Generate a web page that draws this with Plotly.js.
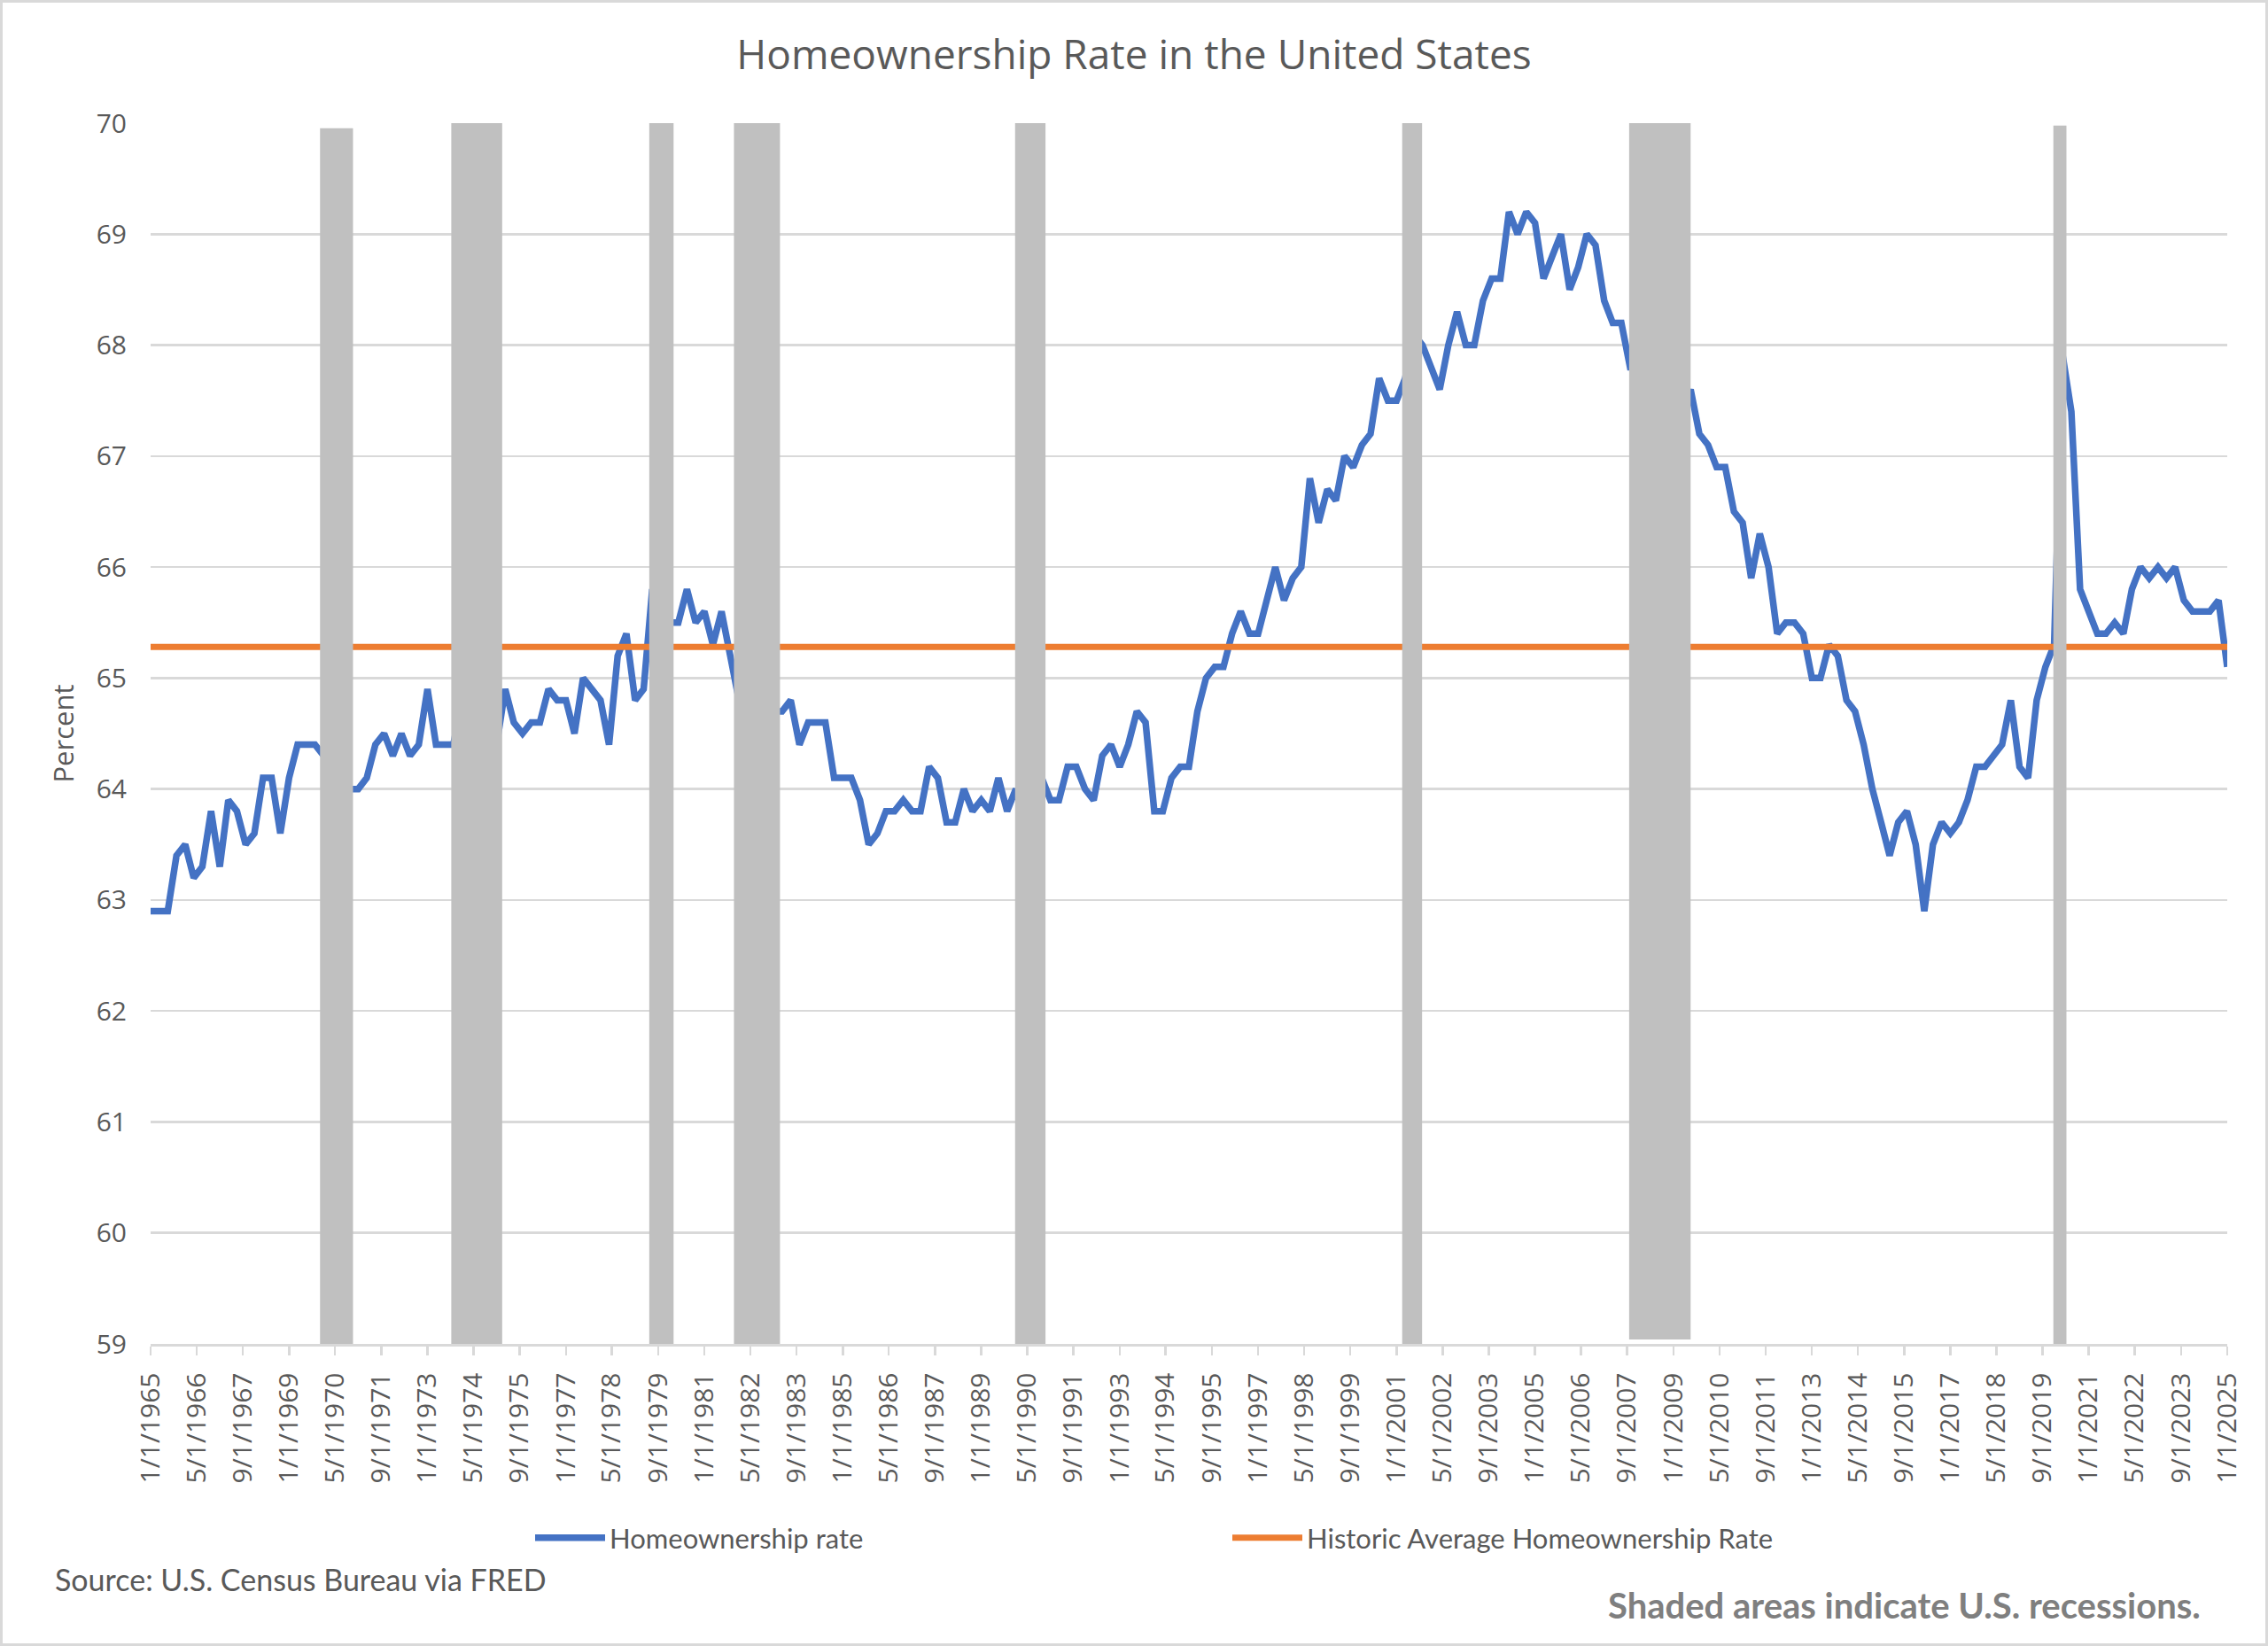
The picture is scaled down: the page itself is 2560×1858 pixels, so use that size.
<!DOCTYPE html>
<html>
<head>
<meta charset="utf-8">
<script src="https://cdn.plot.ly/plotly-3.0.1.min.js"></script>
<style>
html,body{margin:0;padding:0;background:#fff}
#wrap{position:relative;width:2560px;height:1858px}
#chart{width:2560px;height:1858px}
#frame{position:absolute;left:0;top:0;width:2560px;height:1858px;box-sizing:border-box;border:3px solid #d9d9d9;pointer-events:none}
</style>
</head>
<body>
<div id="wrap"><div id="chart"></div><div id="frame"></div></div>
<script>
// ---------- data ----------
const firstYear = 1965;   // first quarter: 1/1/1965, quarterly observations
const homeownershipRate = [
  62.9, 62.9, 62.9, 63.4,   // 1965
  63.5, 63.2, 63.3, 63.8,   // 1966
  63.3, 63.9, 63.8, 63.5,   // 1967
  63.6, 64.1, 64.1, 63.6,   // 1968
  64.1, 64.4, 64.4, 64.4,   // 1969
  64.3, 64.2, 64.0, 64.0,   // 1970
  64.0, 64.1, 64.4, 64.5,   // 1971
  64.3, 64.5, 64.3, 64.4,   // 1972
  64.9, 64.4, 64.4, 64.4,   // 1973
  64.8, 64.8, 64.6, 64.4,   // 1974
  64.4, 64.9, 64.6, 64.5,   // 1975
  64.6, 64.6, 64.9, 64.8,   // 1976
  64.8, 64.5, 65.0, 64.9,   // 1977
  64.8, 64.4, 65.2, 65.4,   // 1978
  64.8, 64.9, 65.8, 65.4,   // 1979
  65.5, 65.5, 65.8, 65.5,   // 1980
  65.6, 65.3, 65.6, 65.2,   // 1981
  64.8, 64.9, 64.9, 64.5,   // 1982
  64.7, 64.7, 64.8, 64.4,   // 1983
  64.6, 64.6, 64.6, 64.1,   // 1984
  64.1, 64.1, 63.9, 63.5,   // 1985
  63.6, 63.8, 63.8, 63.9,   // 1986
  63.8, 63.8, 64.2, 64.1,   // 1987
  63.7, 63.7, 64.0, 63.8,   // 1988
  63.9, 63.8, 64.1, 63.8,   // 1989
  64.0, 63.7, 64.0, 64.1,   // 1990
  63.9, 63.9, 64.2, 64.2,   // 1991
  64.0, 63.9, 64.3, 64.4,   // 1992
  64.2, 64.4, 64.7, 64.6,   // 1993
  63.8, 63.8, 64.1, 64.2,   // 1994
  64.2, 64.7, 65.0, 65.1,   // 1995
  65.1, 65.4, 65.6, 65.4,   // 1996
  65.4, 65.7, 66.0, 65.7,   // 1997
  65.9, 66.0, 66.8, 66.4,   // 1998
  66.7, 66.6, 67.0, 66.9,   // 1999
  67.1, 67.2, 67.7, 67.5,   // 2000
  67.5, 67.7, 68.1, 68.0,   // 2001
  67.8, 67.6, 68.0, 68.3,   // 2002
  68.0, 68.0, 68.4, 68.6,   // 2003
  68.6, 69.2, 69.0, 69.2,   // 2004
  69.1, 68.6, 68.8, 69.0,   // 2005
  68.5, 68.7, 69.0, 68.9,   // 2006
  68.4, 68.2, 68.2, 67.8,   // 2007
  67.8, 68.1, 67.9, 67.5,   // 2008
  67.3, 67.4, 67.6, 67.2,   // 2009
  67.1, 66.9, 66.9, 66.5,   // 2010
  66.4, 65.9, 66.3, 66.0,   // 2011
  65.4, 65.5, 65.5, 65.4,   // 2012
  65.0, 65.0, 65.3, 65.2,   // 2013
  64.8, 64.7, 64.4, 64.0,   // 2014
  63.7, 63.4, 63.7, 63.8,   // 2015
  63.5, 62.9, 63.5, 63.7,   // 2016
  63.6, 63.7, 63.9, 64.2,   // 2017
  64.2, 64.3, 64.4, 64.8,   // 2018
  64.2, 64.1, 64.8, 65.1,   // 2019
  65.3, 67.9, 67.4, 65.8,   // 2020
  65.6, 65.4, 65.4, 65.5,   // 2021
  65.4, 65.8, 66.0, 65.9,   // 2022
  66.0, 65.9, 66.0, 65.7,   // 2023
  65.6, 65.6, 65.6, 65.7,   // 2024
  65.1                      // 2025
];
const historicAverage = 65.28;

const tickLabels = [
  "1/1/1965","5/1/1966","9/1/1967","1/1/1969","5/1/1970","9/1/1971","1/1/1973","5/1/1974",
  "9/1/1975","1/1/1977","5/1/1978","9/1/1979","1/1/1981","5/1/1982","9/1/1983","1/1/1985",
  "5/1/1986","9/1/1987","1/1/1989","5/1/1990","9/1/1991","1/1/1993","5/1/1994","9/1/1995",
  "1/1/1997","5/1/1998","9/1/1999","1/1/2001","5/1/2002","9/1/2003","1/1/2005","5/1/2006",
  "9/1/2007","1/1/2009","5/1/2010","9/1/2011","1/1/2013","5/1/2014","9/1/2015","1/1/2017",
  "5/1/2018","9/1/2019","1/1/2021","5/1/2022","9/1/2023","1/1/2025"
];

// recession shading (as drawn in the picture)
const recessionStart  = ["1969-11-24","1973-09-09","1979-05-30","1981-11-09","1989-12-24","2001-03-01","2007-09-21","2019-12-24"];
const recessionEnd    = ["1970-11-07","1975-02-28","1980-02-11","1983-03-10","1990-11-10","2001-09-27","2009-07-01","2020-05-10"];
const recessionTop    = [69.955, 70.0, 70.024, 70.048, 70.03, 70.048, 70.0, 69.979];
const recessionBottom = [58.978, 58.955, 58.978, 58.978, 59.0, 58.978, 59.04, 58.955];

// ---------- derived ----------
const pad2 = n => (n < 10 ? "0" : "") + n;
const quarterDates = homeownershipRate.map((_, i) =>
  (firstYear + Math.floor(i / 4)) + "-" + pad2(1 + 3 * (i % 4)) + "-01");
const tickVals = tickLabels.map(s => { const [m, d, y] = s.split("/"); return y + "-" + pad2(+m) + "-" + pad2(+d); });
const xFirst = quarterDates[0], xLast = quarterDates[quarterDates.length - 1];

const recMid = recessionStart.map((s, i) => (Date.parse(s) + Date.parse(recessionEnd[i])) / 2);
const recWidth = recessionStart.map((s, i) => Date.parse(recessionEnd[i]) - Date.parse(s));
const recHeight = recessionTop.map((t, i) => t - recessionBottom[i]);

// ---------- layout helpers (pixel -> paper) ----------
const W = 2560, H = 1858, M = {l: 170, r: 46, t: 139, b: 341};
const pw = W - M.l - M.r, ph = H - M.t - M.b;
const px = x => (x - M.l) / pw;
const py = y => (H - M.b - y) / ph;

const grey = "#595959";
const tickFont = {family: "Open Sans, sans-serif", size: 30, color: grey};
const legFont = {family: "Lato, sans-serif", size: 31, color: grey};

const traces = [
  {
    type: "scatter", mode: "lines", name: "Homeownership rate",
    x: quarterDates, y: homeownershipRate,
    line: {color: "#4472C4", width: 7.5},
    legend: "legend", hoverinfo: "skip"
  },
  {
    type: "scatter", mode: "lines", name: "Historic Average Homeownership Rate",
    x: [xFirst, xLast], y: [historicAverage, historicAverage],
    line: {color: "#ED7D31", width: 7},
    legend: "legend2", hoverinfo: "skip"
  },
  {
    type: "bar", name: "Recessions", showlegend: false,
    x: recMid, width: recWidth, base: recessionBottom, y: recHeight,
    xaxis: "x", yaxis: "y2",
    marker: {color: "#C0C0C0", line: {width: 0}},
    cliponaxis: false, hoverinfo: "skip"
  }
];

const layout = {
  width: W, height: H,
  margin: {l: M.l, r: M.r, t: M.t, b: M.b, pad: 0},
  paper_bgcolor: "#ffffff", plot_bgcolor: "#ffffff",
  hovermode: false,
  title: {
    text: "Homeownership Rate in the United States",
    font: {family: "Open Sans, sans-serif", size: 46, color: grey},
    xref: "container", x: 0.5, xanchor: "center",
    yref: "container", y: 1 - 62 / H, yanchor: "middle"
  },
  xaxis: {
    type: "date", range: [xFirst, xLast], fixedrange: true,
    tickmode: "array", tickvals: tickVals, ticktext: tickLabels,
    tickangle: -90, tickfont: tickFont,
    ticks: "outside", ticklen: 10, tickwidth: 2.5, tickcolor: "#d9d9d9",
    ticklabelstandoff: 8,
    showgrid: false, zeroline: false,
    showline: true, linecolor: "#d9d9d9", linewidth: 2.5
  },
  yaxis: {
    range: [59, 70], tick0: 59, dtick: 1, fixedrange: true,
    tickfont: tickFont, ticks: "", ticklabelstandoff: 26,
    showgrid: true, gridcolor: "#d9d9d9", gridwidth: 2.5,
    zeroline: false, showline: false,
    title: {text: "Percent", font: {family: "Open Sans, sans-serif", size: 31, color: grey}, standoff: 15}
  },
  yaxis2: {overlaying: "y", range: [59, 70], visible: false, fixedrange: true},
  legend: {
    orientation: "h", x: px(599), xanchor: "left", y: py(1736), yanchor: "middle",
    font: legFont, itemwidth: 79, bgcolor: "rgba(0,0,0,0)", borderwidth: 0
  },
  legend2: {
    orientation: "h", x: px(1386), xanchor: "left", y: py(1736), yanchor: "middle",
    font: legFont, itemwidth: 79, bgcolor: "rgba(0,0,0,0)", borderwidth: 0
  },
  annotations: [
    {
      text: "Source: U.S. Census Bureau via FRED", showarrow: false,
      xref: "paper", yref: "paper", x: px(60), y: py(1782), xanchor: "left", yanchor: "middle",
      font: {family: "Lato, sans-serif", size: 34, color: grey}
    },
    {
      text: "Shaded areas indicate U.S. recessions.", showarrow: false,
      xref: "paper", yref: "paper", x: px(2486), y: py(1812), xanchor: "right", yanchor: "middle",
      font: {family: "Lato, sans-serif", size: 40, weight: 700, color: "#7f7f7f"}
    }
  ]
};

Plotly.newPlot("chart", traces, layout, {staticPlot: true, displayModeBar: false});
</script>
</body>
</html>
